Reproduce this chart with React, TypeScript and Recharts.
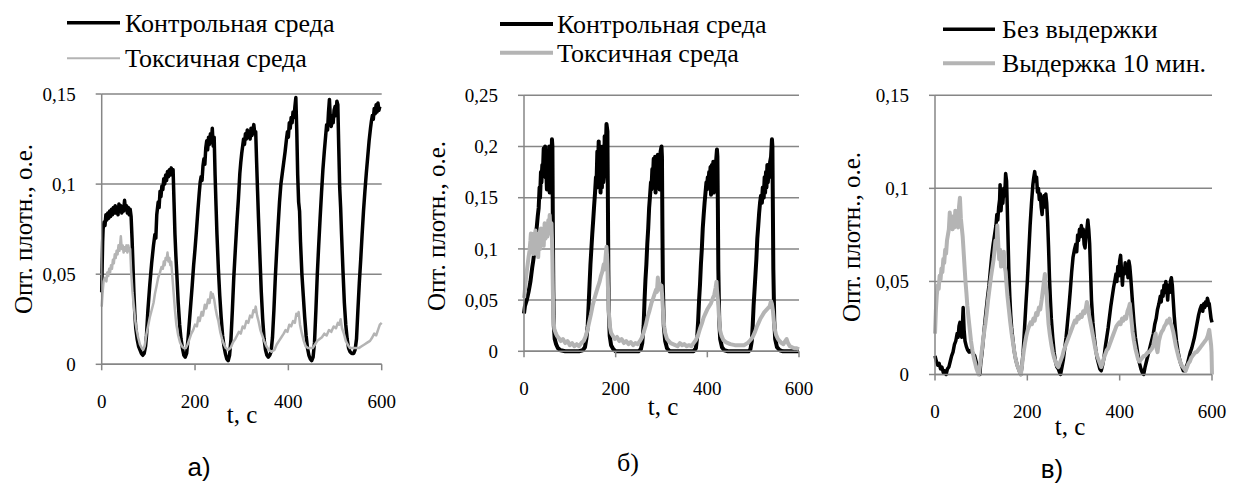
import { LineChart, Line, XAxis, YAxis, CartesianGrid } from 'recharts';

type Pt = [number, number];

const SERIF = '"Liberation Serif", "DejaVu Serif", "Times New Roman", Times, serif';
const SANS = '"Liberation Sans", Arial, sans-serif';
const GRID = '#868686';
const BLACK = '#000000';
const GREY = '#b4b4b4';

// time axis, seconds
const timeTicks = [0, 200, 400, 600];
const ticksA = [0, 0.05, 0.1, 0.15];
const ticksB = [0, 0.05, 0.1, 0.15, 0.2, 0.25];
const ticksC = [0, 0.05, 0.1, 0.15];

const legendA = ['Контрольная среда', 'Токсичная среда'];
const legendB = ['Контрольная среда', 'Токсичная среда'];
const legendC = ['Без выдержки', 'Выдержка 10 мин.'];
const captions = ['а)', 'б)', 'в)'];
const yTitle = 'Опт. плотн., о.е.';
const xTitle = 't, с';

// panel а) — control medium
const aControl: Pt[] = [
  [0, 0.040], [1, 0.055], [2, 0.068], [3, 0.075], [5, 0.079], [7, 0.077], [9, 0.083], [11, 0.080], [13, 0.084],
  [15, 0.081], [17, 0.085], [19, 0.082], [21, 0.086], [23, 0.083], [25, 0.087], [27, 0.084], [29, 0.088],
  [31, 0.084], [33, 0.087], [35, 0.083], [37, 0.089], [39, 0.085], [41, 0.088], [43, 0.084], [45, 0.087],
  [47, 0.085], [49, 0.091], [51, 0.086], [53, 0.088], [55, 0.084], [57, 0.087], [59, 0.083], [61, 0.086],
  [63, 0.082], [65, 0.070], [67, 0.055], [69, 0.040], [71, 0.028], [73, 0.020], [76, 0.014], [79, 0.010],
  [82, 0.008], [85, 0.006], [88, 0.005], [91, 0.006], [94, 0.010], [96, 0.016], [99, 0.030], [103, 0.044],
  [107, 0.056], [111, 0.066], [114, 0.072], [116, 0.070], [118, 0.083], [121, 0.090], [123, 0.087],
  [125, 0.096], [127, 0.093], [129, 0.099], [131, 0.097], [133, 0.103], [135, 0.100], [137, 0.105],
  [139, 0.102], [141, 0.107], [143, 0.104], [145, 0.108], [147, 0.105], [149, 0.109], [151, 0.106],
  [153, 0.108], [155, 0.090], [157, 0.072], [159, 0.060], [161, 0.050], [164, 0.034], [167, 0.022],
  [170, 0.014], [173, 0.009], [176, 0.005], [179, 0.004], [182, 0.006], [185, 0.014], [188, 0.024],
  [191, 0.034], [194, 0.044], [197, 0.055], [200, 0.064], [203, 0.074], [206, 0.085], [209, 0.095],
  [211, 0.101], [213, 0.104], [215, 0.102], [217, 0.110], [219, 0.114], [221, 0.111], [223, 0.120],
  [225, 0.124], [227, 0.119], [229, 0.126], [231, 0.122], [233, 0.128], [235, 0.124], [237, 0.131],
  [239, 0.121], [241, 0.126], [243, 0.105], [245, 0.088], [247, 0.072], [250, 0.053], [253, 0.038],
  [256, 0.026], [259, 0.016], [262, 0.010], [265, 0.006], [268, 0.003], [271, 0.002], [274, 0.005],
  [277, 0.014], [280, 0.030], [283, 0.048], [286, 0.062], [290, 0.080], [293, 0.092], [296, 0.106],
  [298, 0.112], [300, 0.117], [302, 0.121], [304, 0.125], [306, 0.122], [308, 0.128], [310, 0.125],
  [312, 0.130], [314, 0.126], [316, 0.129], [318, 0.125], [320, 0.131], [322, 0.127], [324, 0.130],
  [326, 0.133], [328, 0.128], [330, 0.129], [332, 0.112], [334, 0.096], [336, 0.081], [339, 0.060],
  [342, 0.040], [345, 0.025], [348, 0.014], [351, 0.008], [354, 0.005], [357, 0.004], [360, 0.005],
  [363, 0.007], [366, 0.015], [369, 0.030], [372, 0.048], [375, 0.063], [378, 0.077], [381, 0.090],
  [384, 0.100], [387, 0.106], [390, 0.112], [393, 0.118], [396, 0.125], [398, 0.129], [400, 0.126],
  [402, 0.134], [404, 0.131], [406, 0.137], [408, 0.134], [410, 0.140], [412, 0.137], [414, 0.143],
  [416, 0.148], [418, 0.130], [420, 0.105], [422, 0.090], [424, 0.085], [426, 0.068], [429, 0.050],
  [432, 0.038], [435, 0.026], [438, 0.016], [441, 0.009], [444, 0.005], [447, 0.003], [450, 0.002],
  [453, 0.004], [456, 0.012], [459, 0.030], [462, 0.050], [465, 0.066], [468, 0.081], [471, 0.095],
  [474, 0.108], [477, 0.118], [480, 0.127], [482, 0.133], [484, 0.130], [486, 0.140], [488, 0.147],
  [490, 0.136], [492, 0.132], [494, 0.138], [496, 0.134], [498, 0.141], [500, 0.143], [502, 0.138],
  [504, 0.146], [506, 0.144], [508, 0.120], [510, 0.098], [512, 0.087], [514, 0.072], [517, 0.052],
  [520, 0.034], [523, 0.022], [526, 0.014], [529, 0.009], [532, 0.007], [536, 0.006], [540, 0.006],
  [543, 0.008], [546, 0.014], [549, 0.030], [552, 0.045], [555, 0.058], [558, 0.072], [561, 0.085],
  [564, 0.096], [567, 0.106], [570, 0.115], [573, 0.124], [576, 0.131], [578, 0.135], [580, 0.138],
  [582, 0.136], [584, 0.142], [586, 0.139], [588, 0.144], [590, 0.140], [592, 0.145], [594, 0.141],
  [596, 0.143],
];

// panel а) — toxic medium
const aToxic: Pt[] = [
  [0, 0.032], [2, 0.040], [4, 0.046], [7, 0.048], [10, 0.046], [12, 0.051], [14, 0.049], [16, 0.053],
  [18, 0.051], [20, 0.055], [22, 0.053], [24, 0.058], [26, 0.056], [28, 0.061], [30, 0.059], [32, 0.063],
  [34, 0.061], [36, 0.066], [38, 0.063], [40, 0.068], [41, 0.071], [43, 0.064], [45, 0.066], [47, 0.062],
  [49, 0.065], [51, 0.063], [53, 0.066], [55, 0.062], [57, 0.066], [59, 0.063], [61, 0.064], [63, 0.052],
  [66, 0.040], [69, 0.032], [72, 0.024], [75, 0.019], [78, 0.015], [82, 0.011], [86, 0.009], [89, 0.008],
  [92, 0.010], [96, 0.017], [100, 0.022], [103, 0.026], [107, 0.030], [111, 0.034], [114, 0.039],
  [118, 0.044], [121, 0.048], [125, 0.051], [128, 0.054], [131, 0.053], [133, 0.057], [135, 0.055],
  [137, 0.059], [139, 0.058], [141, 0.062], [143, 0.057], [145, 0.059], [147, 0.055], [149, 0.057],
  [151, 0.050], [154, 0.040], [157, 0.030], [160, 0.022], [164, 0.016], [168, 0.012], [172, 0.010],
  [176, 0.009], [180, 0.009], [184, 0.011], [188, 0.014], [192, 0.017], [196, 0.019], [200, 0.022],
  [204, 0.021], [207, 0.026], [210, 0.024], [214, 0.029], [217, 0.027], [221, 0.033], [224, 0.031],
  [228, 0.036], [231, 0.034], [234, 0.040], [236, 0.037], [238, 0.039], [241, 0.036], [244, 0.031],
  [247, 0.027], [250, 0.024], [254, 0.018], [258, 0.014], [262, 0.011], [266, 0.009], [271, 0.008],
  [276, 0.009], [281, 0.012], [286, 0.014], [290, 0.016], [294, 0.018], [298, 0.017], [302, 0.021],
  [306, 0.020], [310, 0.024], [314, 0.023], [318, 0.027], [322, 0.026], [325, 0.030], [328, 0.029],
  [330, 0.032], [333, 0.027], [336, 0.024], [340, 0.019], [344, 0.016], [348, 0.013], [353, 0.010],
  [358, 0.008], [364, 0.007], [370, 0.008], [375, 0.011], [380, 0.013], [385, 0.015], [390, 0.017],
  [394, 0.019], [398, 0.018], [402, 0.022], [406, 0.021], [410, 0.024], [414, 0.023], [417, 0.028],
  [420, 0.027], [422, 0.029], [425, 0.022], [429, 0.017], [433, 0.013], [437, 0.010], [442, 0.009],
  [447, 0.009], [452, 0.009], [457, 0.011], [462, 0.013], [467, 0.014], [472, 0.015], [477, 0.017],
  [482, 0.016], [487, 0.019], [492, 0.018], [497, 0.021], [502, 0.020], [506, 0.023], [509, 0.022],
  [512, 0.025], [515, 0.020], [519, 0.017], [523, 0.013], [527, 0.011], [532, 0.009], [538, 0.009],
  [545, 0.009], [551, 0.009], [557, 0.010], [563, 0.011], [569, 0.012], [575, 0.013], [580, 0.015],
  [584, 0.017], [588, 0.016], [592, 0.019], [596, 0.022], [600, 0.023],
];

// panel б) — control medium
const bControl: Pt[] = [
  [0, 0.037], [2, 0.044], [4, 0.047], [6, 0.050], [8, 0.054], [10, 0.058], [12, 0.063], [14, 0.068],
  [16, 0.075], [18, 0.082], [20, 0.088], [22, 0.095], [24, 0.103], [26, 0.114], [28, 0.122], [30, 0.132],
  [32, 0.140], [34, 0.160], [35, 0.150], [37, 0.175], [38, 0.165], [40, 0.182], [41, 0.172], [43, 0.198],
  [44, 0.185], [46, 0.200], [47, 0.170], [48, 0.186], [50, 0.158], [51, 0.192], [53, 0.165], [55, 0.200],
  [56, 0.155], [58, 0.180], [59, 0.158], [61, 0.207], [62, 0.200], [63, 0.120], [64, 0.060], [65, 0.025],
  [67, 0.012], [70, 0.007], [74, 0.003], [80, 0.001], [90, 0.000], [105, 0.000], [120, 0.000],
  [128, 0.001], [133, 0.004], [136, 0.012], [139, 0.025], [141, 0.045], [143, 0.065], [145, 0.085],
  [147, 0.100], [149, 0.115], [151, 0.128], [153, 0.142], [155, 0.155], [157, 0.170], [158, 0.160],
  [160, 0.195], [161, 0.170], [163, 0.205], [164, 0.160], [166, 0.200], [167, 0.155], [169, 0.190],
  [170, 0.160], [172, 0.200], [173, 0.165], [175, 0.175], [176, 0.210], [178, 0.190], [180, 0.222],
  [182, 0.215], [183, 0.150], [184, 0.080], [185, 0.040], [187, 0.015], [190, 0.006], [195, 0.002],
  [200, 0.000], [225, 0.000], [250, 0.000], [255, 0.002], [258, 0.008], [261, 0.025], [263, 0.050],
  [265, 0.070], [267, 0.085], [269, 0.105], [271, 0.120], [273, 0.140], [275, 0.152], [277, 0.165],
  [278, 0.158], [280, 0.178], [281, 0.165], [283, 0.188], [284, 0.160], [286, 0.190], [287, 0.155],
  [289, 0.175], [290, 0.160], [292, 0.192], [293, 0.185], [295, 0.170], [296, 0.158], [298, 0.195],
  [300, 0.200], [301, 0.190], [302, 0.120], [303, 0.065], [305, 0.025], [308, 0.010], [312, 0.003],
  [318, 0.000], [345, 0.000], [370, 0.000], [375, 0.003], [378, 0.015], [380, 0.030], [382, 0.050],
  [384, 0.065], [386, 0.085], [388, 0.100], [390, 0.120], [392, 0.133], [394, 0.145], [396, 0.155],
  [398, 0.165], [399, 0.158], [401, 0.170], [402, 0.160], [404, 0.175], [405, 0.165], [407, 0.180],
  [408, 0.153], [410, 0.182], [411, 0.158], [413, 0.185], [414, 0.155], [416, 0.172], [417, 0.160],
  [419, 0.185], [421, 0.197], [422, 0.190], [423, 0.140], [424, 0.080], [426, 0.030], [428, 0.012],
  [432, 0.004], [437, 0.001], [445, 0.000], [470, 0.000], [490, 0.000], [494, 0.002], [497, 0.010],
  [499, 0.025], [501, 0.045], [503, 0.060], [505, 0.075], [507, 0.090], [509, 0.110], [511, 0.122],
  [513, 0.135], [515, 0.145], [517, 0.152], [519, 0.145], [521, 0.160], [523, 0.150], [525, 0.170],
  [526, 0.155], [528, 0.175], [529, 0.160], [531, 0.182], [532, 0.165], [534, 0.178], [535, 0.170],
  [537, 0.185], [539, 0.190], [541, 0.207], [542, 0.200], [543, 0.140], [544, 0.080], [546, 0.030],
  [548, 0.012], [552, 0.004], [558, 0.001], [565, 0.000], [585, 0.000], [600, 0.000],
];

// panel б) — toxic medium
const bToxic: Pt[] = [
  [0, 0.052], [2, 0.060], [4, 0.070], [6, 0.078], [8, 0.085], [10, 0.092], [12, 0.098], [14, 0.108],
  [15, 0.115], [17, 0.098], [18, 0.112], [20, 0.095], [22, 0.115], [23, 0.100], [25, 0.118], [27, 0.095],
  [29, 0.110], [31, 0.092], [33, 0.115], [35, 0.100], [37, 0.120], [39, 0.105], [41, 0.118], [43, 0.103],
  [45, 0.125], [47, 0.110], [49, 0.120], [51, 0.112], [53, 0.128], [55, 0.120], [56, 0.133], [58, 0.115],
  [60, 0.125], [61, 0.110], [62, 0.090], [63, 0.060], [64, 0.035], [66, 0.022], [69, 0.018], [72, 0.015],
  [76, 0.013], [80, 0.010], [85, 0.012], [90, 0.008], [95, 0.010], [100, 0.006], [105, 0.008],
  [110, 0.005], [115, 0.007], [120, 0.005], [125, 0.008], [130, 0.010], [134, 0.014], [138, 0.020],
  [142, 0.028], [146, 0.036], [150, 0.045], [154, 0.052], [158, 0.058], [162, 0.064], [165, 0.068],
  [168, 0.074], [171, 0.078], [174, 0.085], [176, 0.080], [178, 0.092], [180, 0.102], [181, 0.095],
  [182, 0.085], [183, 0.065], [185, 0.040], [187, 0.025], [190, 0.018], [194, 0.015], [198, 0.012],
  [203, 0.014], [208, 0.010], [213, 0.012], [218, 0.008], [223, 0.010], [228, 0.007], [233, 0.009],
  [238, 0.006], [243, 0.008], [248, 0.007], [253, 0.010], [258, 0.014], [262, 0.020], [266, 0.026],
  [270, 0.034], [274, 0.040], [278, 0.047], [282, 0.052], [285, 0.056], [288, 0.060], [290, 0.058],
  [292, 0.072], [294, 0.062], [296, 0.066], [298, 0.060], [300, 0.064], [302, 0.050], [304, 0.035],
  [306, 0.024], [308, 0.018], [312, 0.012], [316, 0.010], [320, 0.008], [325, 0.007], [330, 0.006],
  [335, 0.005], [340, 0.008], [345, 0.006], [350, 0.007], [355, 0.005], [360, 0.006], [365, 0.005],
  [370, 0.008], [375, 0.011], [380, 0.016], [384, 0.022], [388, 0.027], [392, 0.033], [396, 0.037],
  [400, 0.041], [404, 0.044], [408, 0.047], [412, 0.052], [415, 0.055], [418, 0.062], [420, 0.068],
  [421, 0.060], [422, 0.055], [424, 0.045], [426, 0.030], [428, 0.020], [431, 0.015], [435, 0.011],
  [440, 0.009], [445, 0.008], [450, 0.007], [460, 0.006], [470, 0.006], [480, 0.006], [488, 0.008],
  [494, 0.011], [499, 0.014], [504, 0.019], [508, 0.024], [512, 0.028], [516, 0.032], [520, 0.035],
  [524, 0.038], [528, 0.040], [532, 0.042], [536, 0.044], [539, 0.049], [541, 0.046], [543, 0.040],
  [545, 0.030], [547, 0.022], [550, 0.016], [554, 0.012], [558, 0.010], [562, 0.008], [566, 0.007],
  [570, 0.010], [573, 0.012], [576, 0.008], [580, 0.005], [585, 0.004], [590, 0.003], [595, 0.003],
  [600, 0.002],
];

// panel в) — no holding
const cControl: Pt[] = [
  [0, 0.010], [3, 0.007], [6, 0.005], [9, 0.006], [12, 0.003], [15, 0.004], [18, 0.001], [21, 0.002],
  [24, 0.000], [27, 0.003], [30, 0.004], [33, 0.007], [36, 0.010], [39, 0.012], [42, 0.016], [45, 0.018],
  [48, 0.022], [50, 0.020], [52, 0.026], [54, 0.028], [56, 0.022], [58, 0.020], [60, 0.030], [61, 0.036],
  [63, 0.024], [65, 0.018], [68, 0.015], [71, 0.013], [74, 0.012], [77, 0.013], [80, 0.012], [83, 0.011],
  [86, 0.010], [89, 0.007], [92, 0.004], [95, 0.001], [97, 0.000], [99, 0.006], [102, 0.012],
  [105, 0.020], [108, 0.028], [111, 0.035], [114, 0.042], [117, 0.048], [120, 0.056], [123, 0.064],
  [126, 0.070], [129, 0.075], [132, 0.080], [134, 0.086], [136, 0.083], [138, 0.090], [140, 0.094],
  [141, 0.102], [143, 0.088], [145, 0.096], [147, 0.092], [149, 0.100], [151, 0.096], [153, 0.108],
  [155, 0.104], [156, 0.095], [158, 0.075], [160, 0.055], [162, 0.042], [164, 0.032], [166, 0.025],
  [169, 0.018], [172, 0.012], [175, 0.008], [178, 0.005], [181, 0.003], [184, 0.001], [186, 0.000],
  [188, 0.004], [191, 0.012], [194, 0.025], [197, 0.038], [200, 0.050], [203, 0.065], [206, 0.080],
  [209, 0.092], [212, 0.102], [214, 0.106], [216, 0.109], [218, 0.104], [220, 0.106], [222, 0.098],
  [224, 0.100], [226, 0.094], [228, 0.097], [230, 0.090], [232, 0.086], [234, 0.094], [236, 0.096],
  [238, 0.090], [240, 0.097], [242, 0.092], [244, 0.082], [246, 0.068], [248, 0.052], [250, 0.040],
  [252, 0.030], [255, 0.020], [258, 0.012], [261, 0.007], [264, 0.004], [267, 0.003], [270, 0.001],
  [272, 0.000], [275, 0.004], [278, 0.008], [281, 0.014], [284, 0.020], [287, 0.028], [290, 0.036],
  [293, 0.045], [296, 0.055], [299, 0.063], [302, 0.067], [305, 0.070], [307, 0.066], [309, 0.075],
  [311, 0.072], [313, 0.078], [315, 0.074], [317, 0.080], [319, 0.076], [321, 0.078], [323, 0.070],
  [325, 0.068], [327, 0.075], [329, 0.078], [331, 0.083], [333, 0.078], [335, 0.070], [337, 0.055],
  [339, 0.040], [342, 0.028], [345, 0.020], [348, 0.014], [351, 0.009], [354, 0.006], [357, 0.003],
  [360, 0.002], [363, 0.005], [366, 0.009], [369, 0.015], [372, 0.020], [375, 0.025], [378, 0.031],
  [381, 0.037], [384, 0.042], [387, 0.047], [390, 0.051], [392, 0.054], [394, 0.050], [396, 0.058],
  [398, 0.053], [400, 0.061], [402, 0.064], [404, 0.056], [406, 0.048], [408, 0.057], [410, 0.054],
  [412, 0.060], [414, 0.055], [416, 0.058], [418, 0.052], [420, 0.061], [422, 0.058], [424, 0.052],
  [426, 0.045], [428, 0.038], [431, 0.028], [434, 0.020], [437, 0.015], [440, 0.010], [443, 0.006],
  [446, 0.003], [449, 0.001], [452, 0.000], [455, 0.004], [458, 0.007], [461, 0.010], [464, 0.013],
  [467, 0.016], [470, 0.019], [473, 0.022], [476, 0.027], [479, 0.030], [482, 0.035], [485, 0.038],
  [488, 0.042], [490, 0.039], [492, 0.045], [494, 0.042], [496, 0.048], [498, 0.044], [500, 0.050],
  [502, 0.046], [504, 0.040], [506, 0.048], [508, 0.044], [510, 0.050], [512, 0.052], [514, 0.048],
  [516, 0.040], [518, 0.032], [520, 0.026], [523, 0.018], [526, 0.013], [529, 0.009], [532, 0.006],
  [535, 0.004], [538, 0.002], [541, 0.002], [544, 0.004], [547, 0.006], [550, 0.009], [553, 0.012],
  [556, 0.014], [559, 0.017], [562, 0.020], [565, 0.024], [568, 0.028], [571, 0.032], [574, 0.035],
  [577, 0.037], [580, 0.034], [582, 0.038], [584, 0.036], [586, 0.039], [588, 0.037], [590, 0.041],
  [592, 0.039], [594, 0.038], [596, 0.034], [598, 0.030], [600, 0.028],
];

// panel в) — 10 min holding
const cToxic: Pt[] = [
  [0, 0.022], [2, 0.035], [4, 0.043], [6, 0.048], [8, 0.046], [10, 0.053], [12, 0.051], [14, 0.057],
  [16, 0.055], [18, 0.062], [20, 0.060], [22, 0.067], [24, 0.065], [26, 0.072], [28, 0.075], [30, 0.078],
  [32, 0.087], [34, 0.080], [36, 0.084], [38, 0.078], [40, 0.085], [42, 0.079], [44, 0.088], [46, 0.080],
  [48, 0.083], [50, 0.079], [52, 0.090], [54, 0.095], [56, 0.084], [58, 0.079], [60, 0.074], [62, 0.066],
  [64, 0.058], [66, 0.050], [68, 0.044], [70, 0.037], [72, 0.032], [75, 0.025], [78, 0.018], [81, 0.013],
  [84, 0.009], [87, 0.006], [90, 0.003], [93, 0.001], [95, 0.000], [97, 0.004], [100, 0.010],
  [103, 0.016], [106, 0.022], [109, 0.027], [112, 0.033], [115, 0.040], [118, 0.046], [121, 0.052],
  [124, 0.057], [127, 0.062], [129, 0.067], [131, 0.072], [133, 0.068], [135, 0.080], [137, 0.070],
  [139, 0.062], [141, 0.067], [143, 0.058], [145, 0.063], [147, 0.060], [149, 0.066], [151, 0.058],
  [153, 0.055], [155, 0.048], [157, 0.042], [160, 0.035], [163, 0.028], [166, 0.022], [169, 0.017],
  [172, 0.012], [175, 0.008], [178, 0.005], [181, 0.003], [184, 0.001], [186, 0.000], [189, 0.006],
  [192, 0.012], [195, 0.017], [198, 0.021], [201, 0.024], [204, 0.026], [207, 0.028], [210, 0.027],
  [213, 0.030], [216, 0.029], [219, 0.033], [222, 0.032], [225, 0.036], [228, 0.035], [231, 0.040],
  [234, 0.046], [236, 0.050], [238, 0.054], [240, 0.048], [242, 0.042], [244, 0.034], [246, 0.027],
  [249, 0.021], [252, 0.016], [255, 0.012], [258, 0.009], [261, 0.007], [264, 0.005], [267, 0.004],
  [270, 0.006], [273, 0.008], [276, 0.010], [279, 0.013], [282, 0.015], [285, 0.017], [288, 0.019],
  [291, 0.021], [294, 0.023], [297, 0.025], [300, 0.027], [303, 0.029], [306, 0.028], [309, 0.031],
  [312, 0.030], [315, 0.032], [318, 0.031], [321, 0.034], [324, 0.033], [327, 0.036], [329, 0.039],
  [331, 0.037], [333, 0.033], [336, 0.029], [339, 0.025], [342, 0.021], [345, 0.017], [348, 0.013],
  [351, 0.010], [354, 0.008], [357, 0.006], [360, 0.004], [363, 0.006], [366, 0.009], [369, 0.011],
  [372, 0.013], [375, 0.014], [378, 0.016], [381, 0.018], [384, 0.020], [387, 0.022], [390, 0.024],
  [393, 0.026], [396, 0.027], [399, 0.028], [402, 0.027], [405, 0.030], [408, 0.029], [411, 0.031],
  [414, 0.030], [417, 0.034], [420, 0.036], [422, 0.038], [424, 0.033], [426, 0.028], [428, 0.023],
  [431, 0.018], [434, 0.014], [437, 0.011], [440, 0.008], [443, 0.007], [446, 0.008], [449, 0.009],
  [452, 0.010], [455, 0.010], [458, 0.011], [461, 0.012], [464, 0.012], [467, 0.013], [470, 0.014],
  [473, 0.016], [476, 0.020], [478, 0.022], [480, 0.014], [482, 0.012], [485, 0.018], [488, 0.021],
  [491, 0.023], [494, 0.024], [497, 0.026], [500, 0.027], [503, 0.029], [506, 0.028], [508, 0.030],
  [510, 0.028], [513, 0.026], [516, 0.023], [519, 0.019], [522, 0.015], [525, 0.012], [528, 0.009],
  [531, 0.007], [534, 0.005], [537, 0.004], [540, 0.003], [543, 0.002], [546, 0.004], [549, 0.006],
  [552, 0.007], [555, 0.009], [558, 0.010], [561, 0.011], [564, 0.012], [567, 0.012], [570, 0.013],
  [573, 0.014], [576, 0.015], [579, 0.016], [582, 0.017], [585, 0.018], [588, 0.019], [591, 0.021],
  [594, 0.024], [596, 0.020], [598, 0.016], [599, 0.012], [600, 0.000],
];

const fmtY = (v: number) => (v === 0 ? '0' : String(v).replace('.', ','));

const toRows = (pts: Pt[]) => pts.map(([t, v]) => ({ t, v }));

interface PanelProps {
  left: number;
  width: number;
  margin: { top: number; right: number; bottom: number; left: number };
  ticks: number[];
  control: Pt[];
  toxic: Pt[];
  controlWidth: number;
  toxicWidth: number;
  legend: string[];
  legendX: [number, number, number];
  legendY: [number, number];
  legendWidths: [number, number];
  yTitlePos: [number, number];
  xTitlePos: [number, number];
  caption: string;
  captionPos: [number, number];
  captionFont: string;
}

function Panel(p: PanelProps) {
  const H = 486;
  const tickStyle = { fill: '#000', fontSize: 19, style: { fontFamily: SERIF } };
  const serifText = { fontFamily: SERIF };
  return (
    <div style={{ position: 'absolute', left: p.left, top: 0, width: p.width, height: H }}>
      <LineChart width={p.width} height={H} margin={p.margin} style={{ fontFamily: SERIF }}>
        <CartesianGrid vertical={false} stroke={GRID} strokeWidth={1.5} />
        <XAxis
          type="number"
          dataKey="t"
          domain={[0, 600]}
          ticks={timeTicks}
          interval={0}
          axisLine={{ stroke: GRID, strokeWidth: 1.5 }}
          tickLine={{ stroke: GRID, strokeWidth: 1.5 }}
          tickSize={6}
          tickMargin={24}
          tick={tickStyle}
          height={30}
        />
        <YAxis
          type="number"
          domain={[0, p.ticks[p.ticks.length - 1]]}
          ticks={p.ticks}
          interval={0}
          axisLine={{ stroke: GRID, strokeWidth: 1.5 }}
          tickLine={{ stroke: GRID, strokeWidth: 1.5 }}
          tickSize={6}
          tickMargin={20}
          tick={tickStyle}
          tickFormatter={fmtY}
          width={60}
        />
        <Line
          data={toRows(p.control)}
          dataKey="v"
          stroke={BLACK}
          strokeWidth={p.controlWidth}
          strokeLinejoin="round"
          dot={false}
          activeDot={false}
          isAnimationActive={false}
        />
        <Line
          data={toRows(p.toxic)}
          dataKey="v"
          stroke={GREY}
          strokeWidth={p.toxicWidth}
          strokeLinejoin="round"
          dot={false}
          activeDot={false}
          isAnimationActive={false}
        />
      </LineChart>
      <svg
        width={p.width}
        height={H}
        style={{ position: 'absolute', left: 0, top: 0, pointerEvents: 'none' }}
      >
        {p.legend.map((name, i) => (
          <g key={name}>
            <line
              x1={p.legendX[0]}
              x2={p.legendX[1]}
              y1={p.legendY[i]}
              y2={p.legendY[i]}
              stroke={i === 0 ? BLACK : GREY}
              strokeWidth={p.legendWidths[i]}
            />
            <text x={p.legendX[2]} y={p.legendY[i] + 9} fontSize={26} style={serifText} fill="#000">
              {name}
            </text>
          </g>
        ))}
        <text
          transform={`translate(${p.yTitlePos[0]},${p.yTitlePos[1]}) rotate(-90)`}
          textAnchor="middle"
          fontSize={25}
          style={serifText}
          fill="#000"
        >
          {yTitle}
        </text>
        <text x={p.xTitlePos[0]} y={p.xTitlePos[1]} textAnchor="middle" fontSize={25} style={serifText} fill="#000">
          {xTitle}
        </text>
        <text
          x={p.captionPos[0]}
          y={p.captionPos[1]}
          textAnchor="middle"
          fontSize={26}
          style={{ fontFamily: p.captionFont }}
          fill="#000"
        >
          {p.caption}
        </text>
      </svg>
    </div>
  );
}

export default function App() {
  return (
    <div style={{ position: 'absolute', left: 0, top: 0, width: 1241, height: 486, background: '#fff' }}>
      <Panel
        left={0}
        width={405}
        margin={{ top: 94, right: 23.3, bottom: 91.7, left: 41.7 }}
        ticks={ticksA}
        control={aControl}
        toxic={aToxic}
        controlWidth={3.5}
        toxicWidth={2.5}
        legend={legendA}
        legendX={[67, 120, 125]}
        legendY={[22.7, 58.3]}
        legendWidths={[3.5, 2]}
        yTitlePos={[32, 229]}
        xTitlePos={[242, 423]}
        caption={captions[0]}
        captionPos={[199, 476]}
        captionFont={SANS}
      />
      <Panel
        left={410}
        width={410}
        margin={{ top: 95.3, right: 21, bottom: 104.7, left: 54 }}
        ticks={ticksB}
        control={bControl}
        toxic={bToxic}
        controlWidth={4}
        toxicWidth={4}
        legend={legendB}
        legendX={[90, 143, 147]}
        legendY={[24, 52.7]}
        legendWidths={[4, 4]}
        yTitlePos={[35, 226]}
        xTitlePos={[253, 415]}
        caption={captions[1]}
        captionPos={[218, 471]}
        captionFont={SERIF}
      />
      <Panel
        left={820}
        width={421}
        margin={{ top: 95.3, right: 29, bottom: 81.5, left: 55 }}
        ticks={ticksC}
        control={cControl}
        toxic={cToxic}
        controlWidth={3.5}
        toxicWidth={4}
        legend={legendC}
        legendX={[123, 175, 182]}
        legendY={[29.3, 63.3]}
        legendWidths={[3.5, 4]}
        yTitlePos={[40, 237]}
        xTitlePos={[250, 435]}
        caption={captions[2]}
        captionPos={[232, 478]}
        captionFont={SANS}
      />
    </div>
  );
}
